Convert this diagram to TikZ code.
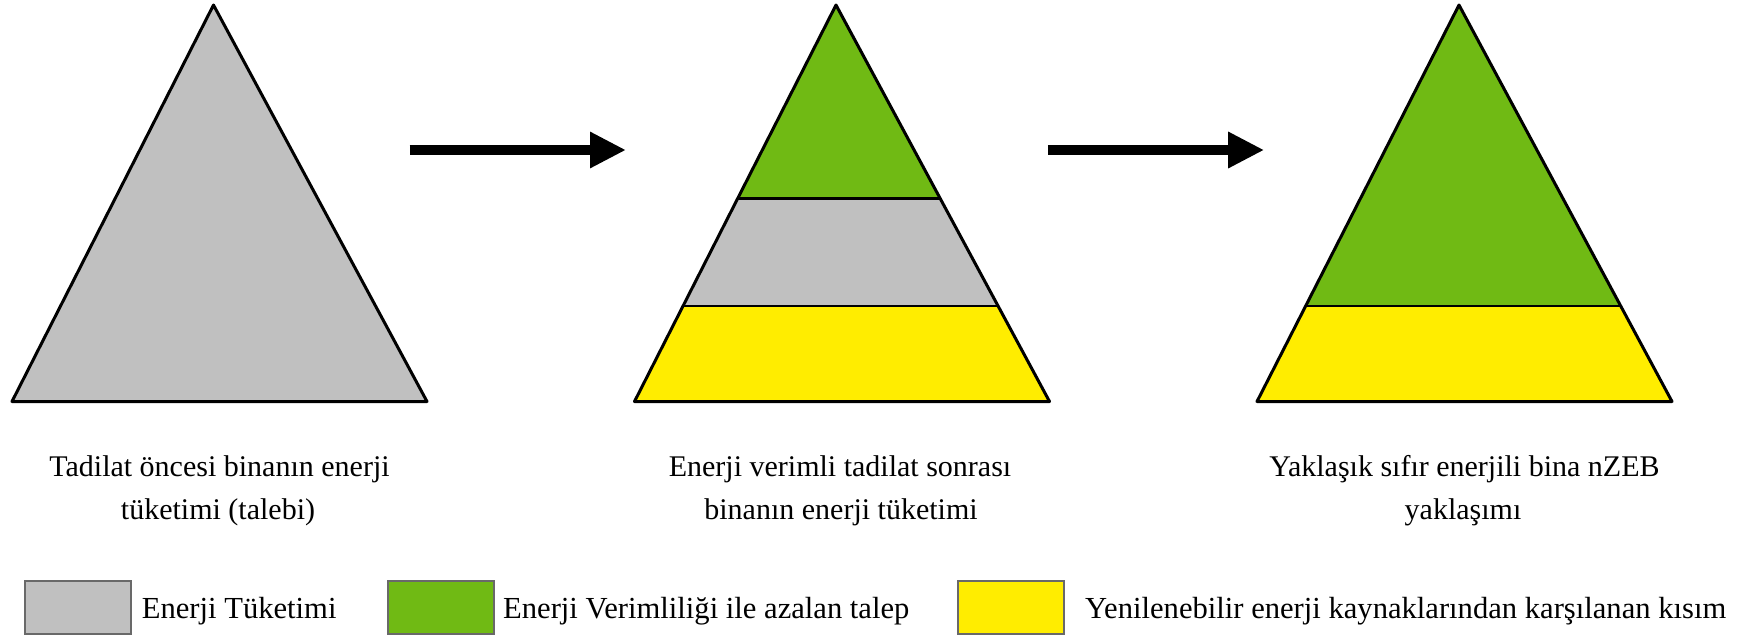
\documentclass[tikz,border=0pt]{standalone}
\usepackage{fontspec}
\setmainfont{Liberation Serif}
\usetikzlibrary{calc,arrows.meta}
\definecolor{tgray}{RGB}{192,192,192}
\definecolor{tgreen}{RGB}{112,186,20}
\definecolor{tyellow}{RGB}{255,237,0}
\definecolor{lborder}{RGB}{105,105,105}
\begin{document}
\begin{tikzpicture}[x=1pt,y=-1pt,
  outl/.style={draw=black,line width=3pt,line join=round},
  band/.style={draw=black,line width=2.5pt},
  flow/.style={line width=10pt,-{Triangle[length=36pt,width=34pt]}},
  lbl/.style={font=\fontsize{30}{36}\selectfont,anchor=base,inner sep=0pt},
  leg/.style={font=\fontsize{30.6}{36}\selectfont,anchor=base west,inner sep=0pt},
  legbox/.style={draw=lborder,line width=2pt,minimum width=106pt,minimum height=53pt,inner sep=0pt,anchor=north west}
]
\useasboundingbox (0,0) rectangle (1737,635);
% triangle 1
\coordinate (t1a) at (213.5,5);
\coordinate (t1l) at (12,401.5);
\coordinate (t1r) at (427,401.5);
\fill[tgray] (t1a) -- (t1l) -- (t1r) -- cycle;
\draw[outl] (t1a) -- (t1l) -- (t1r) -- cycle;
% triangle 2
\coordinate (t2a) at (836,5);
\coordinate (t2l) at (634.5,401.5);
\coordinate (t2r) at (1049.5,401.5);
\coordinate (t2p) at ($(t2a)!0.4875!(t2l)$);
\coordinate (t2q) at ($(t2a)!0.4875!(t2r)$);
\coordinate (t2u) at ($(t2a)!0.759!(t2l)$);
\coordinate (t2v) at ($(t2a)!0.759!(t2r)$);
\fill[tgreen] (t2a) -- (t2p) -- (t2q) -- cycle;
\fill[tgray] (t2p) -- (t2u) -- (t2v) -- (t2q) -- cycle;
\fill[tyellow] (t2u) -- (t2l) -- (t2r) -- (t2v) -- cycle;
\draw[band] (t2p) -- (t2q);
\draw[band] (t2u) -- (t2v);
\draw[outl] (t2a) -- (t2l) -- (t2r) -- cycle;
% triangle 3
\coordinate (t3a) at (1459,5);
\coordinate (t3l) at (1257,401.5);
\coordinate (t3r) at (1672,401.5);
\coordinate (t3u) at ($(t3a)!0.759!(t3l)$);
\coordinate (t3v) at ($(t3a)!0.759!(t3r)$);
\fill[tgreen] (t3a) -- (t3u) -- (t3v) -- cycle;
\fill[tyellow] (t3u) -- (t3l) -- (t3r) -- (t3v) -- cycle;
\draw[band] (t3u) -- (t3v);
\draw[outl] (t3a) -- (t3l) -- (t3r) -- cycle;
% arrows
\coordinate (a1s) at (409.5,150);
\coordinate (a1e) at (626,150);
\coordinate (a2s) at (1047.8,150);
\coordinate (a2e) at (1264.2,150);
\draw[flow] (a1s) -- (a1e);
\draw[flow] (a2s) -- (a2e);
% labels
\node[lbl] (l1a) at (219.5,476.7) {Tadilat öncesi binanın enerji};
\node[lbl] (l1b) at (218,519.7) {tüketimi (talebi)};
\node[lbl] (l2a) at (840,476.7) {Enerji verimli tadilat sonrası};
\node[lbl] (l2b) at (841,519.7) {binanın enerji tüketimi};
\node[lbl] (l3a) at (1464.5,476.7) {Yaklaşık sıfır enerjili bina nZEB};
\node[lbl] (l3b) at (1463,519.7) {yaklaşımı};
% legend
\node[legbox,fill=tgray] (b1) at (24.3,580) {};
\node[leg] (e1) at (141.7,618.3) {Enerji Tüketimi};
\node[legbox,fill=tgreen] (b2) at (386.7,580) {};
\node[leg] (e2) at (503,618.3) {Enerji Verimliliği ile azalan talep};
\node[legbox,fill=tyellow] (b3) at (956.7,580) {};
\node[leg] (e3) at (1085,618.3) {Yenilenebilir enerji kaynaklarından karşılanan kısım};
\end{tikzpicture}
\end{document}
